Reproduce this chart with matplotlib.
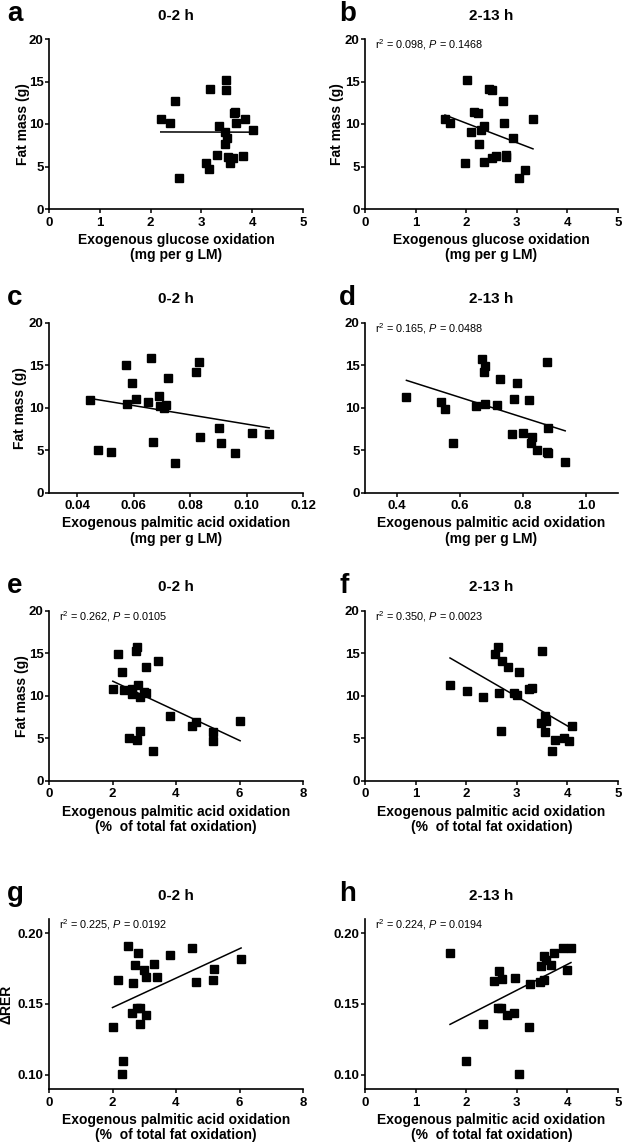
import numpy as np
import matplotlib
matplotlib.use("Agg")
from matplotlib import pyplot as plt

plt.rcParams['font.family'] = ['Liberation Sans', 'DejaVu Sans']
plt.rcParams['mathtext.fontset'] = 'custom'
plt.rcParams['mathtext.rm'] = 'Liberation Sans'
plt.rcParams['mathtext.it'] = 'Liberation Sans:italic'
plt.rcParams['mathtext.bf'] = 'Liberation Sans:bold'

# a: exogenous glucose oxidation 0-2 h vs fat mass
glc_02 = [2.20, 2.38, 2.49, 2.55, 3.10, 3.14, 3.17, 3.30, 3.35, 3.48, 3.49, 3.47, 3.50, 3.46,
          3.52, 3.57, 3.62, 3.67, 3.64, 3.69, 3.82, 3.86, 4.02]
fm_a = [10.63, 10.16, 12.67, 3.61, 5.41, 4.71, 14.12, 6.31, 9.76, 15.22, 14.04, 9.02, 8.31, 7.69,
        6.08, 5.41, 5.96, 11.37, 11.29, 10.12, 6.27, 10.63, 9.33]

# b: exogenous glucose oxidation 2-13 h
glc_213 = [1.58, 1.68, 2.01, 1.97, 2.09, 2.15, 2.23, 2.25, 2.30, 2.35, 2.36, 2.45, 2.51, 2.51,
           2.58, 2.72, 2.74, 2.78, 2.78, 2.92, 3.05, 3.16, 3.32]
fm_b = [10.63, 10.12, 15.18, 5.41, 9.06, 11.37, 11.29, 7.69, 9.33, 5.49, 9.73, 14.12, 14.04, 5.96,
        6.27, 12.67, 10.16, 6.08, 6.39, 8.35, 3.61, 4.63, 10.63]

# c: exogenous palmitic acid oxidation 0-2 h (mg per g LM)
pa_02 = [0.0447, 0.0475, 0.0518, 0.0573, 0.0576, 0.0594, 0.0609, 0.0651, 0.0661, 0.0669, 0.0689,
         0.0695, 0.0706, 0.0714, 0.0720, 0.0745, 0.0820, 0.0832, 0.0836, 0.0904, 0.0911, 0.0959,
         0.1018, 0.1080]
fm_c = [10.92, 5.00, 4.84, 14.99, 10.45, 12.90, 11.00, 10.72, 15.82, 5.91, 11.36, 10.25, 9.98,
        10.33, 13.45, 3.50, 14.20, 15.38, 6.54, 7.64, 5.79, 4.68, 7.05, 6.89]

# d: exogenous palmitic acid oxidation 2-13 h (mg per g LM)
pa_213 = [0.431, 0.541, 0.554, 0.577, 0.651, 0.671, 0.678, 0.675, 0.679, 0.717, 0.726, 0.764,
          0.780, 0.771, 0.800, 0.819, 0.827, 0.825, 0.844, 0.877, 0.878, 0.877, 0.880, 0.933]
fm_d = [11.30, 10.70, 9.90, 5.90, 10.25, 15.78, 14.95, 14.15, 10.49, 10.29, 13.41, 6.89,
        12.86, 11.00, 7.05, 10.96, 6.50, 5.79, 5.00, 15.38, 7.64, 4.80, 4.70, 3.60]

# e: exogenous palmitic acid oxidation 0-2 h (% of total fat oxidation)
pct_02 = [2.01, 2.17, 2.30, 2.35, 2.51, 2.61, 2.62, 2.73, 2.78, 2.80, 2.77, 2.86, 2.87, 2.99,
          3.04, 3.06, 3.29, 3.43, 3.81, 4.51, 4.62, 5.17, 5.18, 6.02]
fm_e = [10.84, 14.88, 12.84, 10.64, 4.99, 10.84, 10.21, 15.23, 15.74, 11.27, 4.83, 5.89, 9.85,
        10.40, 10.29, 13.35, 3.53, 14.10, 7.58, 6.48, 6.87, 5.73, 4.63, 6.99]

# f: exogenous palmitic acid oxidation 2-13 h (% of total fat oxidation)
pct_213 = [1.68, 2.02, 2.34, 2.56, 2.62, 2.65, 2.68, 2.70, 2.82, 2.94, 3.00, 3.05, 3.25, 3.30,
           3.49, 3.47, 3.55, 3.58, 3.55, 3.69, 3.75, 3.93, 4.03, 4.10]
fm_f = [11.27, 10.60, 9.82, 14.88, 15.74, 10.37, 5.89, 14.10, 13.35, 10.30, 10.10, 12.84, 10.84,
        10.92, 15.31, 6.83, 7.62, 7.07, 5.69, 3.53, 4.79, 4.99, 4.63, 6.48]

# g: delta RER vs % palmitic acid oxidation 0-2 h
pct_02_g = [2.50, 2.79, 2.71, 3.00, 3.05, 3.30, 3.41, 3.82, 4.51, 4.64, 5.19, 5.18, 6.05, 2.16,
            2.63, 2.00, 2.60, 2.78, 2.87, 2.87, 3.05, 2.33, 2.29]
rer_g = [0.1906, 0.1860, 0.1778, 0.1740, 0.1690, 0.1785, 0.1690, 0.1845, 0.1896, 0.1653, 0.1745,
         0.1672, 0.1818, 0.1670, 0.1650, 0.1338, 0.1437, 0.1474, 0.1474, 0.1360, 0.1420, 0.1101,
         0.1009]

# h: delta RER vs % palmitic acid oxidation 2-13 h
pct_213_h = [1.68, 2.00, 2.34, 2.55, 2.64, 2.70, 2.62, 2.68, 2.81, 2.94, 2.97, 3.04, 3.24, 3.27,
             3.45, 3.53, 3.48, 3.54, 3.57, 3.67, 3.73, 3.91, 4.07, 4.00]
rer_h = [0.1861, 0.1099, 0.1361, 0.1665, 0.1731, 0.1679, 0.1472, 0.1472, 0.1422, 0.1434, 0.1682,
         0.1007, 0.1337, 0.1644, 0.1653, 0.1667, 0.1771, 0.1837, 0.1814, 0.1778, 0.1861, 0.1896,
         0.1892, 0.1738]

stats = {'b': ('0.098', '0.1468'), 'd': ('0.165', '0.0488'), 'e': ('0.262', '0.0105'),
         'f': ('0.350', '0.0023'), 'g': ('0.225', '0.0192'), 'h': ('0.224', '0.0194')}

xl_glc = 'Exogenous glucose oxidation\n(mg per g LM)'
xl_pa = 'Exogenous palmitic acid oxidation\n(mg per g LM)'
xl_pct = 'Exogenous palmitic acid oxidation\n(%  of total fat oxidation)'

panels = [
    ('a', '0-2 h', glc_02, fm_a, xl_glc, 'Fat mass (g)', (0, 5), [0, 1, 2, 3, 4, 5], '%g'),
    ('b', '2-13 h', glc_213, fm_b, xl_glc, 'Fat mass (g)', (0, 5), [0, 1, 2, 3, 4, 5], '%g'),
    ('c', '0-2 h', pa_02, fm_c, xl_pa, 'Fat mass (g)', (0.03, 0.12), [0.04, 0.06, 0.08, 0.10, 0.12], '%.2f'),
    ('d', '2-13 h', pa_213, fm_d, xl_pa, None, (0.3, 1.1), [0.4, 0.6, 0.8, 1.0], '%.1f'),
    ('e', '0-2 h', pct_02, fm_e, xl_pct, 'Fat mass (g)', (0, 8), [0, 2, 4, 6, 8], '%g'),
    ('f', '2-13 h', pct_213, fm_f, xl_pct, None, (0, 5), [0, 1, 2, 3, 4, 5], '%g'),
    ('g', '0-2 h', pct_02_g, rer_g, xl_pct, '\u0394RER', (0, 8), [0, 2, 4, 6, 8], '%g'),
    ('h', '2-13 h', pct_213_h, rer_h, xl_pct, None, (0, 5), [0, 1, 2, 3, 4, 5], '%g'),
]

W, H = 624, 1145
fig = plt.figure(figsize=(W / 100, H / 100), dpi=100)
lefts = [49, 365]
widths = [254, 253]
row_bottoms = [209, 492.7, 780.7, 1089]
ah = 170
ylab_x = {'a': -0.075, 'b': -0.083, 'c': -0.085, 'e': -0.078, 'g': -0.14}

for i, (lab, title, x, y, xlab, ylab, xlim, xt, fmt) in enumerate(panels):
    r, c = i // 2, i % 2
    ax = fig.add_axes([lefts[c] / W, 1 - row_bottoms[r] / H, widths[c] / W, ah / H])
    x = np.array(x)
    y = np.array(y)
    ax.plot(x, y, 's', color='black', ms=5.2, zorder=3)
    k, b0 = np.polyfit(x, y, 1)
    xs = np.array([x.min(), x.max()])
    ax.plot(xs, k * xs + b0, color='black', lw=1.1)

    ax.set_xlim(*xlim)
    ax.set_xticks(xt)
    ax.set_xticklabels([fmt % v for v in xt])
    if lab in 'gh':
        ax.set_ylim(0.09, 0.21)
        ax.set_yticks([0.10, 0.15, 0.20])
        ax.set_yticklabels(['0.10', '0.15', '0.20'])
    else:
        ax.set_ylim(0, 20)
        ax.set_yticks([0, 5, 10, 15, 20])

    for s in ['top', 'right']:
        ax.spines[s].set_visible(False)
    for s in ['left', 'bottom']:
        ax.spines[s].set_linewidth(1.2)
    ax.tick_params(direction='out', length=3, width=1.1, labelsize=9.5)
    ax.tick_params(axis='y', pad=1)
    ax.tick_params(axis='x', pad=2.5)
    for t in ax.get_xticklabels() + ax.get_yticklabels():
        t.set_fontweight('bold')

    ax.set_xlabel(xlab, fontsize=10, fontweight='bold', linespacing=1.15)
    ax.xaxis.set_label_coords(0.5, -0.14)
    ax.xaxis.label.set_va('top')
    if ylab:
        ax.set_ylabel(ylab, fontsize=10, fontweight='bold')
        ax.yaxis.set_label_coords(ylab_x[lab], 0.5)

    ax.set_title(title, fontsize=11, fontweight='bold', pad=14)
    fig.text((7 if c == 0 else 339) / W, 1 - (row_bottoms[r] - ah - 18) / H, lab,
             fontsize=20, fontweight='bold', va='baseline', ha='left')

    if lab in stats:
        r2, p = stats[lab]
        ax.text(0.04, 0.965, 'r$^2$ = %s, $\\mathit{P}$ = %s' % (r2, p),
                transform=ax.transAxes, fontsize=7.8, va='center', ha='left')

fig.savefig('out.png', dpi=100)
